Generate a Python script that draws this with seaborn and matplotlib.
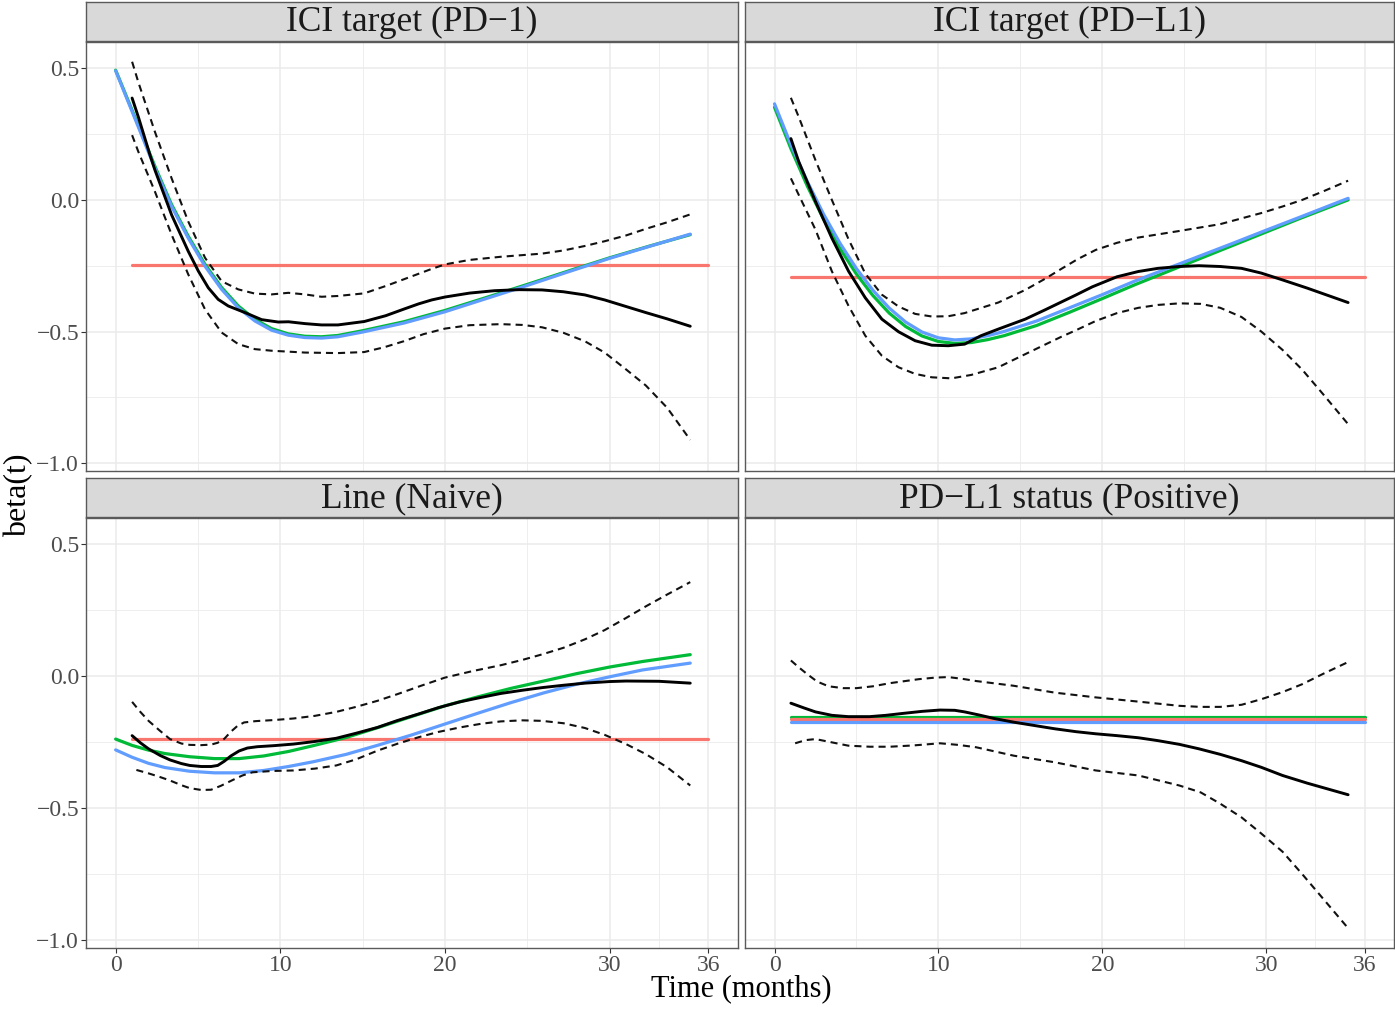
import matplotlib
matplotlib.use("Agg")
import matplotlib.pyplot as plt
import seaborn as sns
import pandas as pd

# ---------------------------------------------------------------- data
panel_titles = ["ICI target (PD\u22121)", "ICI target (PD\u2212L1)",
                "Line (Naive)", "PD\u2212L1 status (Positive)"]

x_breaks = [0, 10, 20, 30, 36]
x_minor = [5, 15, 25, 33]
x_labels = ["0", "10", "20", "30", "36"]
y_breaks = [0.5, 0.0, -0.5, -1.0]
y_minor = [0.25, -0.25, -0.75]
y_labels = ["0.5", "0.0", "\u22120.5", "\u22121.0"]

# ICI target (PD-1)
pd1_fit_x = [0, 1.38, 2.39, 3.4, 4.41, 5.43, 6.44, 7.45, 8.46, 9.47, 10.49, 11.5, 12.5, 13.5,
             15.0, 17.5, 20.0, 22.5, 25.0, 27.5, 30.0, 32.5, 34.9]
pd1_green_y = [0.493, 0.283, 0.127, -0.018, -0.138, -0.245, -0.333, -0.403, -0.454, -0.489, -0.509,
               -0.518, -0.52, -0.515, -0.497, -0.463, -0.42, -0.371, -0.321, -0.27, -0.22, -0.174, -0.132]
pd1_blue_y = [0.491, 0.277, 0.12, -0.025, -0.145, -0.252, -0.34, -0.41, -0.46, -0.495, -0.514,
              -0.523, -0.525, -0.52, -0.502, -0.468, -0.425, -0.375, -0.325, -0.273, -0.222, -0.175, -0.13]
pd1_const = -0.248
pd1_est_x = [1.0, 1.38, 2.09, 2.39, 3.4, 4.41, 5.02, 5.63, 6.23, 6.84, 7.85, 8.87, 9.88, 10.5, 11.5,
             12.5, 13.5, 15.1, 16.4, 17.5, 18.4, 19.2, 20.0, 21.5, 23.0, 24.5, 25.9, 27.2, 28.5,
             29.7, 31.0, 32.2, 33.5, 34.9]
pd1_est_y = [0.387, 0.315, 0.17, 0.113, -0.057, -0.195, -0.27, -0.334, -0.378, -0.403, -0.428, -0.455,
             -0.464, -0.463, -0.47, -0.475, -0.475, -0.462, -0.44, -0.415, -0.395, -0.38, -0.369,
             -0.354, -0.345, -0.341, -0.342, -0.349, -0.361, -0.38, -0.405, -0.428, -0.452, -0.48]
pd1_hi_x = [1.0, 1.38, 2.39, 3.4, 4.41, 5.43, 6.44, 7.45, 8.46, 9.47, 10.49, 11.5, 12.5, 13.5, 15.1,
            16.5, 18.0, 19.2, 20.0, 21.5, 23.4, 25.9, 27.2, 28.5, 29.7, 31.0, 32.2, 33.5, 34.9]
pd1_hi_y = [0.525, 0.447, 0.258, 0.082, -0.082, -0.22, -0.309, -0.34, -0.356, -0.359, -0.353, -0.359,
            -0.368, -0.365, -0.355, -0.325, -0.29, -0.262, -0.245, -0.228, -0.216, -0.204, -0.192,
            -0.175, -0.157, -0.135, -0.11, -0.085, -0.055]
pd1_lo_x = [1.0, 1.38, 2.39, 3.4, 4.41, 5.43, 6.44, 7.45, 8.46, 9.47, 11.5, 13.5, 15.1, 16.3, 17.5,
            18.7, 20.0, 21.5, 23.4, 24.7, 25.9, 27.2, 28.5, 29.7, 31.0, 32.2, 33.5, 34.9]
pd1_lo_y = [0.246, 0.183, 0.031, -0.132, -0.283, -0.416, -0.504, -0.548, -0.567, -0.573, -0.58, -0.582,
            -0.578, -0.56, -0.537, -0.51, -0.489, -0.476, -0.472, -0.475, -0.484, -0.505, -0.537,
            -0.58, -0.644, -0.705, -0.79, -0.912]

# ICI target (PD-L1)
pdl1_fit_x = [0, 1, 2, 3, 4, 5, 6, 7, 8, 9, 10, 11, 12, 13, 14, 16, 18, 20, 22, 24, 26, 28, 30, 32, 35]
pdl1_green_y = [0.352, 0.195, 0.053, -0.074, -0.185, -0.282, -0.363, -0.43, -0.481, -0.517, -0.538,
                -0.545, -0.542, -0.531, -0.516, -0.477, -0.427, -0.375, -0.322, -0.272, -0.222,
                -0.172, -0.122, -0.072, 0.0]
pdl1_blue_y = [0.365, 0.21, 0.07, -0.055, -0.165, -0.261, -0.343, -0.411, -0.464, -0.502, -0.524,
               -0.532, -0.528, -0.516, -0.5, -0.46, -0.41, -0.36, -0.308, -0.26, -0.212, -0.164,
               -0.115, -0.067, 0.006]
pdl1_const = -0.292
pdl1_est_x = [1.0, 1.48, 2.5, 3.5, 4.52, 5.54, 6.55, 7.57, 8.58, 9.6, 10.6, 11.6, 12.6, 13.65, 15.3,
              16.5, 17.5, 18.4, 19.4, 20.9, 22.2, 23.4, 24.7, 25.9, 27.2, 28.5, 29.7, 31.0, 32.5, 35.0]
pdl1_est_y = [0.233, 0.145, -0.006, -0.145, -0.271, -0.372, -0.453, -0.501, -0.535, -0.552, -0.554,
              -0.548, -0.516, -0.491, -0.453, -0.418, -0.388, -0.361, -0.33, -0.292, -0.272, -0.26,
              -0.253, -0.25, -0.253, -0.26, -0.278, -0.304, -0.335, -0.39]
pdl1_hi_x = [1.0, 1.48, 2.5, 3.5, 4.52, 5.54, 6.55, 7.57, 8.58, 9.6, 10.6, 11.6, 13.65, 15.3, 16.5,
             17.5, 18.5, 19.6, 20.9, 22.2, 24.7, 27.2, 29.7, 31.0, 32.2, 33.5, 35.0]
pdl1_hi_y = [0.388, 0.315, 0.151, 0.0, -0.15, -0.28, -0.36, -0.405, -0.433, -0.443, -0.442, -0.43,
             -0.39, -0.342, -0.3, -0.262, -0.225, -0.19, -0.163, -0.143, -0.118, -0.092, -0.05,
             -0.025, 0.0, 0.033, 0.073]
pdl1_lo_x = [1.0, 1.48, 2.5, 3.5, 4.52, 5.54, 6.55, 7.57, 8.58, 9.6, 10.8, 12.0, 13.65, 15.3, 16.5,
             17.5, 18.4, 19.6, 20.9, 22.2, 23.4, 24.7, 26.0, 27.2, 28.5, 29.7, 31.0, 32.2, 33.5, 35.0]
pdl1_lo_y = [0.082, 0.019, -0.113, -0.271, -0.403, -0.516, -0.592, -0.636, -0.661, -0.674, -0.678,
             -0.665, -0.636, -0.586, -0.55, -0.52, -0.495, -0.46, -0.43, -0.41, -0.399, -0.393,
             -0.395, -0.41, -0.445, -0.5, -0.57, -0.645, -0.74, -0.852]

# Line (Naive)
naive_fit_x = [0, 1, 2, 3, 4.5, 6, 7.5, 9, 10.5, 12, 14, 16, 18, 20, 22, 24, 26, 28, 30, 32, 34.9]
naive_green_y = [-0.238, -0.262, -0.28, -0.293, -0.305, -0.312, -0.312, -0.302, -0.285, -0.263,
                 -0.232, -0.193, -0.152, -0.112, -0.078, -0.046, -0.018, 0.01, 0.035, 0.056, 0.082]
naive_blue_y = [-0.279, -0.307, -0.33, -0.346, -0.36, -0.366, -0.366, -0.357, -0.342, -0.324,
                -0.296, -0.26, -0.222, -0.181, -0.14, -0.1, -0.063, -0.03, -0.002, 0.024, 0.05]
naive_const = -0.238
naive_est_x = [1.0, 1.5, 2.0, 2.7, 3.3, 4.0, 4.5, 5.2, 5.8, 6.2, 6.6, 7.0, 7.5, 8.0, 8.6, 9.6, 10.8,
               12.0, 13.4, 14.6, 15.9, 17.1, 18.4, 19.6, 20.9, 22.2, 23.4, 24.7, 25.9, 27.2, 28.5,
               30.0, 31.0, 33.0, 34.9]
naive_est_y = [-0.225, -0.252, -0.275, -0.3, -0.317, -0.331, -0.338, -0.342, -0.342, -0.338, -0.322,
               -0.302, -0.283, -0.272, -0.267, -0.263, -0.257, -0.248, -0.235, -0.216, -0.194, -0.168,
               -0.143, -0.119, -0.097, -0.08, -0.065, -0.053, -0.043, -0.034, -0.026, -0.02, -0.018,
               -0.019, -0.026]
naive_hi_x = [1.0, 1.5, 2.0, 2.7, 3.3, 4.0, 4.5, 5.2, 5.8, 6.2, 6.6, 7.0, 7.4, 7.8, 8.5, 9.6, 10.8,
              12.1, 13.4, 14.6, 15.9, 17.1, 18.5, 20.0, 21.7, 23.4, 24.7, 25.9, 27.2, 28.5, 29.7,
              31.0, 32.2, 33.5, 34.9]
naive_hi_y = [-0.097, -0.135, -0.169, -0.207, -0.238, -0.255, -0.26, -0.261, -0.259, -0.252, -0.237,
              -0.21, -0.188, -0.175, -0.17, -0.166, -0.16, -0.15, -0.135, -0.116, -0.093, -0.068,
              -0.037, -0.005, 0.02, 0.042, 0.062, 0.083, 0.108, 0.14, 0.175, 0.221, 0.265, 0.31, 0.357]
naive_lo_x = [1.26, 2.0, 2.7, 3.3, 4.0, 4.5, 5.2, 5.8, 6.4, 7.05, 7.7, 8.3, 9.5, 10.8, 12.1, 13.4,
              14.6, 15.9, 17.1, 18.4, 19.6, 20.9, 22.2, 23.4, 24.7, 25.9, 27.2, 28.5, 29.7, 31.0,
              32.2, 33.5, 34.9]
naive_lo_y = [-0.355, -0.368, -0.382, -0.395, -0.413, -0.424, -0.431, -0.43, -0.415, -0.395, -0.376,
              -0.364, -0.359, -0.357, -0.35, -0.338, -0.315, -0.282, -0.256, -0.231, -0.211, -0.194,
              -0.18, -0.171, -0.167, -0.169, -0.178, -0.196, -0.222, -0.257, -0.295, -0.345, -0.414]

# PD-L1 status (Positive)
pos_green_const = -0.155
pos_blue_const = -0.173
pos_const = -0.162
pos_est_x = [1.0, 1.8, 2.5, 3.5, 4.5, 5.8, 6.8, 7.8, 9.0, 10.1, 11.0, 11.6, 12.5, 13.4, 14.6, 15.9,
             17.1, 18.4, 19.6, 20.9, 22.2, 23.4, 24.7, 25.9, 27.2, 28.5, 29.7, 31.0, 32.5, 35.0]
pos_est_y = [-0.102, -0.12, -0.135, -0.148, -0.153, -0.153, -0.148, -0.141, -0.133, -0.128, -0.129,
             -0.135, -0.147, -0.16, -0.174, -0.187, -0.199, -0.21, -0.218, -0.225, -0.233, -0.244,
             -0.258, -0.275, -0.296, -0.32, -0.345, -0.376, -0.405, -0.449]
pos_hi_x = [1.0, 1.5, 2.0, 2.6, 3.3, 4.2, 5.0, 6.0, 7.05, 8.8, 9.8, 10.6, 11.5, 12.3, 14.6, 17.1,
            19.6, 22.2, 24.7, 26.0, 27.2, 28.5, 29.7, 31.0, 32.2, 33.5, 35.0]
pos_hi_y = [0.06, 0.033, 0.008, -0.02, -0.038, -0.045, -0.045, -0.038, -0.026, -0.011, -0.005, -0.003,
            -0.01, -0.018, -0.036, -0.062, -0.08, -0.096, -0.112, -0.116, -0.116, -0.108, -0.087,
            -0.06, -0.03, 0.01, 0.054]
pos_lo_x = [1.26, 1.9, 2.5, 3.3, 4.5, 5.8, 7.05, 8.5, 10.1, 11.2, 12.3, 14.6, 17.1, 19.6, 22.2, 24.7,
            26.0, 27.2, 28.5, 29.7, 31.0, 32.2, 33.5, 35.0]
pos_lo_y = [-0.254, -0.242, -0.238, -0.248, -0.263, -0.267, -0.267, -0.262, -0.254, -0.26, -0.269,
            -0.301, -0.326, -0.357, -0.376, -0.414, -0.44, -0.483, -0.535, -0.596, -0.665, -0.75,
            -0.845, -0.955]

const_span = [1, 36]

# ---------------------------------------------------------------- style
sns.set_style("white")
plt.rcParams["font.family"] = ["Liberation Serif", "DejaVu Serif"]

RED, GREEN, BLUE = "#F8766D", "#00BA38", "#619CFF"
BORDER = "#5A5A5A"
GRID = "#EBEBEB"

W, H = 1395, 1009
fig = plt.figure(figsize=(W / 100, H / 100), dpi=100)


def frac_box(x0, y0, x1, y1):
    return [x0 / W, 1 - y1 / H, (x1 - x0) / W, (y1 - y0) / H]


cols = [(86, 738), (745, 1394)]
rows = [((2, 41), (42, 471)), ((478, 517), (518, 948))]


def line(ax, xs, ys, color, lw, ls="-"):
    df = pd.DataFrame({"t": xs, "beta": ys})
    sns.lineplot(data=df, x="t", y="beta", ax=ax, color=color, linewidth=lw,
                 linestyle=ls, estimator=None, sort=False, legend=False,
                 solid_joinstyle="round", dash_joinstyle="round")


panels = [
    dict(fits=[(pd1_fit_x, pd1_green_y, GREEN), (pd1_fit_x, pd1_blue_y, BLUE)],
         const=pd1_const, est=(pd1_est_x, pd1_est_y),
         hi=(pd1_hi_x, pd1_hi_y), lo=(pd1_lo_x, pd1_lo_y)),
    dict(fits=[(pdl1_fit_x, pdl1_green_y, GREEN), (pdl1_fit_x, pdl1_blue_y, BLUE)],
         const=pdl1_const, est=(pdl1_est_x, pdl1_est_y),
         hi=(pdl1_hi_x, pdl1_hi_y), lo=(pdl1_lo_x, pdl1_lo_y)),
    dict(fits=[(naive_fit_x, naive_green_y, GREEN), (naive_fit_x, naive_blue_y, BLUE)],
         const=naive_const, est=(naive_est_x, naive_est_y),
         hi=(naive_hi_x, naive_hi_y), lo=(naive_lo_x, naive_lo_y)),
    dict(fits=[(const_span, [pos_green_const] * 2, GREEN),
               (const_span, [pos_blue_const] * 2, BLUE)],
         const=pos_const, est=(pos_est_x, pos_est_y),
         hi=(pos_hi_x, pos_hi_y), lo=(pos_lo_x, pos_lo_y)),
]

dash = (0, (3.4, 2.4))

for i, (title, spec) in enumerate(zip(panel_titles, panels)):
    r, c = divmod(i, 2)
    (sy0, sy1), (py0, py1) = rows[r]
    x0, x1 = cols[c]

    ax = fig.add_axes(frac_box(x0, py0, x1, py1))
    ax.set_facecolor("white")
    ax.set_axisbelow(True)

    if i == 3:
        # constant fits: green under the reference line, blue over it
        for xs, ys, col in spec["fits"][:1]:
            line(ax, xs, ys, col, 2.3)
        line(ax, const_span, [spec["const"]] * 2, RED, 2.3)
        for xs, ys, col in spec["fits"][1:]:
            line(ax, xs, ys, col, 2.3)
    else:
        line(ax, const_span, [spec["const"]] * 2, RED, 2.3)
        for xs, ys, col in spec["fits"]:
            line(ax, xs, ys, col, 2.3)
    line(ax, *spec["est"], "black", 2.1)
    line(ax, *spec["hi"], "#111111", 1.5, dash)
    line(ax, *spec["lo"], "#111111", 1.5, dash)

    ax.set_xlim(-1.8, 37.8)
    ax.set_ylim(-1.03, 0.6)
    ax.set_xticks(x_breaks)
    ax.set_xticks(x_minor, minor=True)
    ax.set_yticks(y_breaks)
    ax.set_yticks(y_minor, minor=True)
    ax.grid(which="major", color=GRID, linewidth=1.1)
    ax.grid(which="minor", color=GRID, linewidth=0.6)
    ax.set_xlabel("")
    ax.set_ylabel("")

    ax.tick_params(which="minor", length=0)
    ax.tick_params(axis="y", which="major", left=(c == 0), labelleft=(c == 0),
                   length=3.5, width=0.8, color="#333333",
                   labelsize=17, labelcolor="#4D4D4D", pad=1.5)
    ax.tick_params(axis="x", which="major", bottom=(r == 1), labelbottom=(r == 1),
                   length=3.5, width=0.8, color="#333333",
                   labelsize=17, labelcolor="#4D4D4D", pad=1.5)
    if c == 0:
        ax.set_yticklabels(y_labels)
    if r == 1:
        ax.set_xticklabels(x_labels)
    for s in ax.spines.values():
        s.set_visible(True)
        s.set_color(BORDER)
        s.set_linewidth(1.0)

    # facet strip
    sax = fig.add_axes(frac_box(x0, sy0, x1, sy1))
    sax.set_facecolor("#D9D9D9")
    sax.set_xticks([])
    sax.set_yticks([])
    for s in sax.spines.values():
        s.set_visible(True)
        s.set_color(BORDER)
        s.set_linewidth(1.0)
    sax.text(0.5, 0.47, title, ha="center", va="center", fontsize=25.5,
             color="#1A1A1A", transform=sax.transAxes)

fig.text(741 / W, 1 - 989 / H, "Time (months)", ha="center", va="center",
         fontsize=22, color="black")
fig.text(19 / W, 1 - 495 / H, "beta(t)", ha="center", va="center",
         rotation=90, fontsize=23, color="black")

fig.savefig("out.png", dpi=100)
